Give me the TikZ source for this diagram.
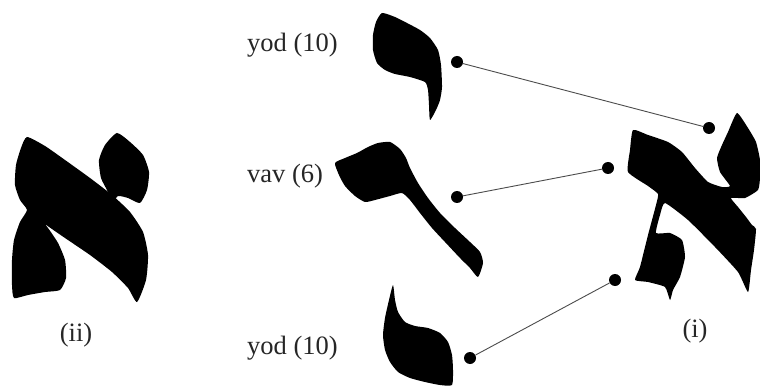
\documentclass[tikz,border=0pt]{standalone}
\usepackage{fontspec}
\setmainfont{Liberation Serif}
\begin{document}
\begin{tikzpicture}[x=1pt,y=-1pt]
\tikzset{
  glyph/.style={fill=black, draw=none},
  lbl/.style={font=\fontsize{26.5}{30}\selectfont, text=black!85, inner sep=0pt},
  dotnode/.style={circle, fill=black, inner sep=0pt, minimum size=12pt},
  link/.style={draw=black!70, line width=0.9pt}
}
\useasboundingbox[fill=white] (0,0) rectangle (760,390);

% ---- left aleph (ii)
\fill[glyph] plot[smooth cycle, tension=0.35] coordinates {
 (27,137) (45,146) (65,160) (90,178) (112,195) (130,212) (143,232) (148,255) (146,280) (137,302)
 (128,288) (112,272) (90,255) (65,238) (45,224) (38,216)
 (48,228) (58,243) (65,260) (66,278) (60,290)
 (45,292) (28,295) (14,298)
 (12,285) (12,260) (14,240) (20,222) (27,210)
 (20,200) (15,185) (16,165) (21,148)};
\fill[glyph] plot[smooth cycle, tension=0.35] coordinates {
 (117,133) (130,142) (143,155) (149,172) (147,190) (140,203) (128,198) (118,196) (112,203) (108,192) (101,178) (99,160) (105,145)};

% ---- top yod
\fill[glyph] plot[smooth cycle, tension=0.35] coordinates {
 (382,13) (395,17) (407,23) (420,30) (430,38) (438,50) (441,65) (442,87) (440,100) (436,110) (430,120)
 (429,105) (428,90) (425,82) (410,77) (395,74) (385,70) (377,63) (373,50) (373,35) (376,22)};

% ---- vav
\fill[glyph] plot[smooth cycle, tension=0.35] coordinates {
 (335,163) (345,158) (357,153) (368,147) (378,143) (390,142) (400,149) (406,158) (410,168) (418,183)
 (428,198) (440,213) (455,228) (470,242) (480,252) (483,263) (478,277)
 (470,268) (460,258) (445,242) (432,228) (420,213) (410,200) (402,193)
 (390,196) (375,200) (365,202) (355,196) (345,186) (339,175)};

% ---- bottom yod
\fill[glyph] plot[smooth cycle, tension=0.35] coordinates {
 (393,285) (389,300) (385,318) (383,335) (385,350) (390,362) (398,372) (410,378) (425,382) (440,385) (452,385)
 (453,370) (452,355) (448,342) (440,333) (428,328) (415,326) (405,322) (398,312) (395,300)};

% ---- right aleph (i)
\fill[glyph] plot[smooth cycle, tension=0.3] coordinates {
 (633,130) (648,135) (668,142) (682,152) (695,168) (708,182) (722,187) (730,186)
 (720,172) (717,158) (722,145) (728,132) (737,113)
 (748,128) (756,142) (760,160) (760,178) (758,190) (745,198) (731,198)
 (738,207) (746,217) (752,225) (756,229) (754,250) (751,270) (748,292)
 (738,272) (715,247) (688,220) (665,203)
 (660,215) (656,233)
 (670,233) (682,240) (685,257) (680,277) (673,290) (670,300)
 (665,287) (648,282) (635,280)
 (640,267) (648,235) (656,205) (658,194)
 (648,186) (628,172) (630,150)};

% ---- labels
\node[lbl, anchor=west] (ltop) at (247,45) {yod (10)};
\node[lbl, anchor=west] (lmid) at (247,176) {vav (6)};
\node[lbl, anchor=west] (lbot) at (247,348) {yod (10)};
\node[lbl] (cii) at (76,335) {(ii)};
\node[lbl] (ci) at (695,331) {(i)};

% ---- dots and connectors
\node[dotnode] (d1) at (457,62) {};
\node[dotnode] (d2) at (709,128) {};
\node[dotnode] (d3) at (457,197) {};
\node[dotnode] (d4) at (608,168) {};
\node[dotnode] (d5) at (470,358) {};
\node[dotnode] (d6) at (615,280) {};
\draw[link] (d1) -- (d2);
\draw[link] (d3) -- (d4);
\draw[link] (d5) -- (d6);
\end{tikzpicture}
\end{document}
